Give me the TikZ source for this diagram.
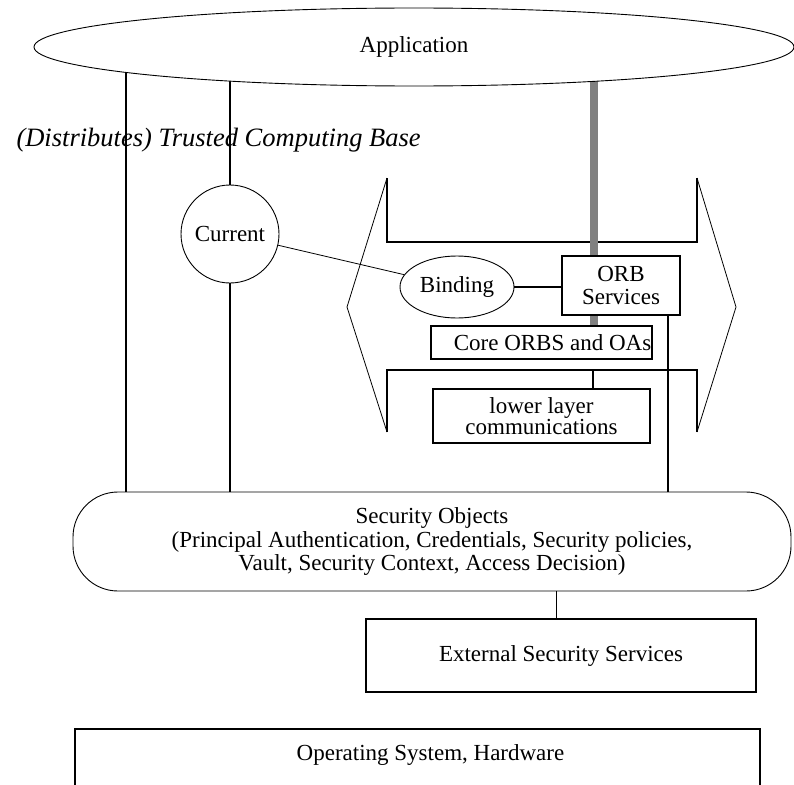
\documentclass[tikz,border=0pt]{standalone}
\usepackage{fontspec}
\setmainfont{Liberation Serif}
\usepackage{tikz}
\usetikzlibrary{positioning, shapes.geometric, backgrounds}

\begin{document}
\begin{tikzpicture}[x=1pt, y=-1pt,
    font=\fontsize{23}{24}\selectfont,
    box/.style={draw, line width=1.5pt, fill=white, inner sep=0pt, align=center},
    thinbox/.style={draw, line width=0.9pt, fill=white, inner sep=0pt, align=center},
    wire/.style={line width=1.5pt},
    bracket/.style={line width=1.5pt},
    chevron/.style={line width=0.8pt},
    graybar/.style={line width=8pt, draw=gray}]
    \useasboundingbox (0,0) rectangle (794,784);

    \node[thinbox, ellipse, minimum width=760pt, minimum height=78pt] (app) at (414,47) {Application};
    \node[anchor=base west, font=\fontsize{26.5}{28}\selectfont\itshape] (tcb) at (13,146) {(Distributes) Trusted Computing Base};
    \node[thinbox, circle, minimum size=98pt] (cur) at (230,234) {Current};
    \node[thinbox, ellipse, minimum width=114pt, minimum height=62pt] (bind) at (457,287) {Binding};
    \node[box, minimum width=118pt, minimum height=59pt, font=\fontsize{23}{22.3}\selectfont] (orb) at (621,285.5) {ORB\\Services};
    \node[box, minimum width=221pt, minimum height=33pt, label={[xshift=11pt]center:{Core ORBS and OAs}}] (core) at (541.5,342.5) {};
    \node[box, minimum width=217pt, minimum height=54pt, font=\fontsize{23}{18.5}\selectfont] (low) at (541.5,416) {lower layer\\communications};
    \node[thinbox, rounded corners=45pt, minimum width=718pt, minimum height=99pt, font=\fontsize{23}{23.5}\selectfont] (sec) at (432,541.5) {Security Objects\\(Principal Authentication, Credentials, Security policies,\\Vault, Security Context, Access Decision)};
    \node[box, minimum width=390pt, minimum height=73pt] (ext) at (561,655.5) {External Security Services};
    \node[box, minimum width=685pt, minimum height=70pt, label={[xshift=13pt, yshift=9pt]center:{Operating System, Hardware}}] (os) at (417.5,764) {};

    \coordinate (lft) at (126,300);
    \coordinate (gb) at (594,300);
    \coordinate (brb) at (697,370);

    \begin{scope}[on background layer]
        \draw[chevron] (387,178) -- (347,307) -- (387,432);
        \draw[chevron] (697,178) -- (736,307) -- (697,432);
        \draw[bracket] (387,178) -- (387,242) -- (697,242) -- (697,178);
        \draw[bracket] (387,432) -- (387,370) -- (697,370) -- (697,432);
        \draw[wire] (lft |- app.center) -- (lft |- sec.center);
        \draw[wire] (cur) -- (cur |- app.center);
        \draw[wire] (cur) -- (cur |- sec.center);
        \draw[graybar] (gb |- app.center) -- (gb |- core.center);
    \end{scope}

    \draw[chevron] (cur) -- (bind);
    \draw[wire] (bind.east) -- (bind.east -| orb.west);
    \draw[wire] ([xshift=47pt]orb.south) -- ([xshift=47pt]orb.south |- sec.north);
    \draw[wire] ([xshift=51.5pt]low.north) -- ([xshift=51.5pt]low.north |- brb);
    \draw[wire] ([xshift=-4.5pt]ext.north) -- ([xshift=-4.5pt]ext.north |- sec.south);
\end{tikzpicture}
\end{document}
